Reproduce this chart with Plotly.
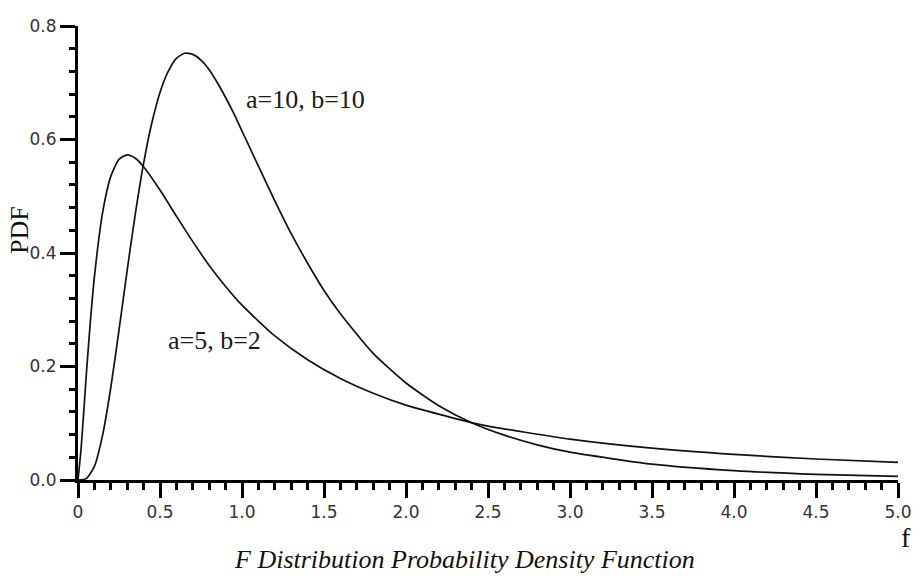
import plotly.graph_objects as go

# F density, numerator df a = 5, denominator df b = 2
f_a5_b2 = [0, 0.02, 0.05, 0.075, 0.1, 0.15, 0.2, 0.25, 0.3, 0.35, 0.4, 0.5, 0.6, 0.7,
           0.8, 0.9, 1.0, 1.2, 1.4, 1.6, 1.8, 2.0, 2.4, 2.5, 3.0, 3.5, 4.0, 4.5, 5.0]
pdf_a5_b2 = [0, 0.059, 0.183, 0.278, 0.358, 0.471, 0.535, 0.565, 0.573, 0.567, 0.552,
             0.511, 0.465, 0.420, 0.378, 0.341, 0.308, 0.254, 0.212, 0.179, 0.153,
             0.132, 0.101, 0.095, 0.072, 0.056, 0.045, 0.037, 0.031]

# F density, a = 10, b = 10
f_a10_b10 = [0, 0.05, 0.1, 0.15, 0.2, 0.25, 0.3, 0.35, 0.4, 0.45, 0.5, 0.55, 0.6, 0.65,
             0.7, 0.75, 0.8, 0.85, 0.9, 0.95, 1.0, 1.1, 1.2, 1.3, 1.4, 1.5, 1.6, 1.8,
             2.0, 2.2, 2.4, 2.6, 2.8, 3.0, 3.5, 4.0, 4.5, 5.0]
pdf_a10_b10 = [0, 0.0024, 0.024, 0.079, 0.163, 0.264, 0.370, 0.470, 0.558, 0.629,
               0.683, 0.720, 0.743, 0.752, 0.750, 0.740, 0.723, 0.700, 0.674, 0.646,
               0.615, 0.553, 0.492, 0.434, 0.382, 0.334, 0.293, 0.223, 0.171, 0.131,
               0.101, 0.079, 0.062, 0.049, 0.028, 0.0165, 0.010, 0.0065]

x_ticks = [0, 0.5, 1.0, 1.5, 2.0, 2.5, 3.0, 3.5, 4.0, 4.5, 5.0]
x_tick_text = ["0", "0.5", "1.0", "1.5", "2.0", "2.5", "3.0", "3.5", "4.0", "4.5", "5.0"]
y_ticks = [0.0, 0.2, 0.4, 0.6, 0.8]
y_tick_text = ["0.0", "0.2", "0.4", "0.6", "0.8"]

serif = "Liberation Serif, Times New Roman, serif"
sans = "DejaVu Sans, Verdana, sans-serif"
ink = "#111111"

fig = go.Figure()
for xs, ys in [(f_a5_b2, pdf_a5_b2), (f_a10_b10, pdf_a10_b10)]:
    fig.add_trace(go.Scatter(
        x=xs, y=ys, mode="lines",
        line=dict(color=ink, width=1.7, shape="spline", smoothing=0.6),
        showlegend=False, hoverinfo="skip",
    ))

axis_common = dict(
    showgrid=False, zeroline=False, showline=True, linecolor="black", linewidth=3,
    ticks="outside", ticklen=15, tickwidth=3, tickcolor="black", automargin=False,
    tickfont=dict(family=sans, size=17, color="#333333"),
)

fig.update_xaxes(
    range=[0, 5], tickvals=x_ticks, ticktext=x_tick_text,
    minor=dict(dtick=0.1, tick0=0, ticks="outside", ticklen=7, tickwidth=2.5, tickcolor="black"),
    ticklabelstandoff=0,
    **axis_common,
)
fig.update_yaxes(
    range=[0, 0.8], tickvals=y_ticks, ticktext=y_tick_text,
    minor=dict(dtick=0.04, tick0=0, ticks="outside", ticklen=6, tickwidth=2.5, tickcolor="black"),
    **axis_common,
)

fig.add_annotation(x=1.012, y=0.671, xref="x", yref="y", text="a=10, b=10",
                   showarrow=False, xanchor="left", yanchor="middle",
                   font=dict(family=serif, size=26, color="#1a1a1a"))
fig.add_annotation(x=0.537, y=0.2467, xref="x", yref="y", text="a=5, b=2",
                   showarrow=False, xanchor="left", yanchor="middle",
                   font=dict(family=serif, size=26, color="#1a1a1a"))

# axis names and caption, given in pixel positions
pixel_labels = [
    dict(x=19, y=230, text="PDF", textangle=-90, size=26),
    dict(x=906, y=537, text="f", textangle=0, size=28),
    dict(x=464, y=559, text="<i>F Distribution Probability Density Function</i>",
         textangle=0, size=26),
]

W, H = 914, 577
ml, mr, mt, mb = 78, 16, 26, 97
pw, ph = W - ml - mr, H - mt - mb
for lab in pixel_labels:
    fig.add_annotation(
        x=(lab["x"] - ml) / pw, y=(H - mb - lab["y"]) / ph,
        xref="paper", yref="paper", xanchor="center", yanchor="middle",
        text=lab["text"], textangle=lab["textangle"], showarrow=False,
        font=dict(family=serif, size=lab["size"], color="#111111"),
    )

fig.update_layout(
    template="none",
    width=W, height=H,
    margin=dict(l=ml, r=mr, t=mt, b=mb, pad=0),
    paper_bgcolor="white", plot_bgcolor="white",
)
fig.write_html("out.html", include_plotlyjs=True, config={"displayModeBar": False})
